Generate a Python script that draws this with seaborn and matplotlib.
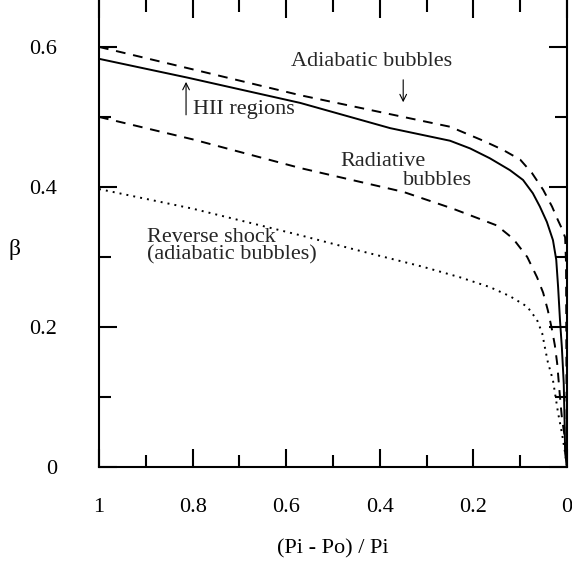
import matplotlib
matplotlib.use("Agg")
import matplotlib.pyplot as plt
import seaborn as sns
import pandas as pd

# curves, x = (Pi - Po) / Pi, y = beta
x_adiab = [1.0, 0.8, 0.57, 0.35, 0.25, 0.179, 0.137, 0.1, 0.075, 0.051, 0.032, 0.019,
           0.012, 0.004, 0.002, 0.0015, 0.001, 0.0]
y_adiab = [0.600, 0.568, 0.531, 0.500, 0.486, 0.466, 0.453, 0.439, 0.420, 0.396, 0.372, 0.352,
           0.342, 0.328, 0.29, 0.20, 0.10, 0.0]

x_hii = [1.0, 0.81, 0.57, 0.378, 0.25, 0.207, 0.165, 0.122, 0.094, 0.073, 0.058, 0.043,
         0.03, 0.023, 0.019, 0.015, 0.011, 0.007, 0.005, 0.004, 0.0]
y_hii = [0.583, 0.556, 0.520, 0.484, 0.466, 0.455, 0.441, 0.424, 0.410, 0.391, 0.372, 0.350,
         0.324, 0.296, 0.257, 0.210, 0.171, 0.12, 0.06, 0.02, 0.0]

x_rad = [1.0, 0.8, 0.57, 0.35, 0.244, 0.15, 0.115, 0.085, 0.064, 0.051, 0.041, 0.032,
         0.026, 0.021, 0.015, 0.011, 0.004, 0.0]
y_rad = [0.500, 0.468, 0.427, 0.393, 0.369, 0.345, 0.326, 0.300, 0.271, 0.249, 0.224, 0.196,
         0.174, 0.148, 0.100, 0.071, 0.039, 0.0]

x_rev = [1.0, 0.8, 0.57, 0.45, 0.308, 0.229, 0.165, 0.122, 0.085, 0.064, 0.053, 0.047,
         0.041, 0.03, 0.019, 0.011, 0.004, 0.0]
y_rev = [0.397, 0.369, 0.331, 0.310, 0.286, 0.271, 0.257, 0.244, 0.229, 0.210, 0.191, 0.170,
         0.150, 0.124, 0.077, 0.049, 0.020, 0.0]

x_ticks = [1.0, 0.8, 0.6, 0.4, 0.2, 0.0]
x_ticklabels = ["1", "0.8", "0.6", "0.4", "0.2", "0"]
y_ticks = [0.0, 0.2, 0.4, 0.6]
y_ticklabels = ["0", "0.2", "0.4", "0.6"]

sns.set_theme(style="white")
plt.rcParams["font.family"] = ["Liberation Serif", "DejaVu Serif"]

fig = plt.figure(figsize=(5.72, 5.73), dpi=100)
ax = fig.add_axes([99 / 572, 106 / 573, 468 / 572, 467 / 573])

curves = [
    (x_adiab, y_adiab, (0, (5, 4))),
    (x_hii, y_hii, "-"),
    (x_rad, y_rad, (0, (5, 4))),
    (x_rev, y_rev, (0, (1, 2.6))),
]
for xs, ys, ls in curves:
    df = pd.DataFrame({"x": xs, "y": ys})
    sns.lineplot(data=df, x="x", y="y", ax=ax, color="black", lw=1.4,
                 linestyle=ls, estimator=None, sort=False)

ax.set_xlim(1, 0)
ax.set_ylim(0, 0.667)
ax.set_xticks(x_ticks)
ax.set_xticklabels(x_ticklabels)
ax.set_yticks(y_ticks)
ax.set_yticklabels(y_ticklabels)
ax.set_xticks([0.9, 0.7, 0.5, 0.3, 0.1], minor=True)
ax.set_yticks([0.1, 0.3, 0.5], minor=True)

for s in ax.spines.values():
    s.set_color("black")
    s.set_linewidth(1.5)
ax.spines["top"].set_visible(False)

ax.tick_params(which="both", direction="in", top=True, right=True, bottom=True, left=True,
               color="black", width=1.5, labelsize=16, labelcolor="black")
ax.tick_params(which="major", length=13)
ax.tick_params(which="minor", length=8.5)
ax.tick_params(axis="x", which="major", pad=22)
ax.tick_params(axis="y", which="major", pad=30)

ax.set_xlabel("(Pi - Po) / Pi", fontsize=16, color="black", labelpad=16)
ax.set_ylabel("β", fontsize=17, color="black", rotation=0, va="center")
ax.yaxis.set_label_coords(-0.18, 0.465)

# labels and arrows
ax.text(0.417, 0.579, "Adiabatic bubbles", fontsize=16, ha="center", va="center")
ax.annotate("", xy=(0.350, 0.517), xytext=(0.350, 0.557),
            arrowprops=dict(arrowstyle="->", lw=0.8, color="black"))
ax.text(0.799, 0.510, "HII regions", fontsize=16, ha="left", va="center")
ax.annotate("", xy=(0.814, 0.554), xytext=(0.814, 0.499),
            arrowprops=dict(arrowstyle="->", lw=0.8, color="black"))
ax.text(0.485, 0.437, "Radiative", fontsize=16, ha="left", va="center")
ax.text(0.350, 0.409, "bubbles", fontsize=16, ha="left", va="center")
ax.text(0.897, 0.315, "Reverse shock\n(adiabatic bubbles)", fontsize=16,
        ha="left", va="center", linespacing=0.85)

fig.savefig("out.png", dpi=100)
plt.close(fig)
